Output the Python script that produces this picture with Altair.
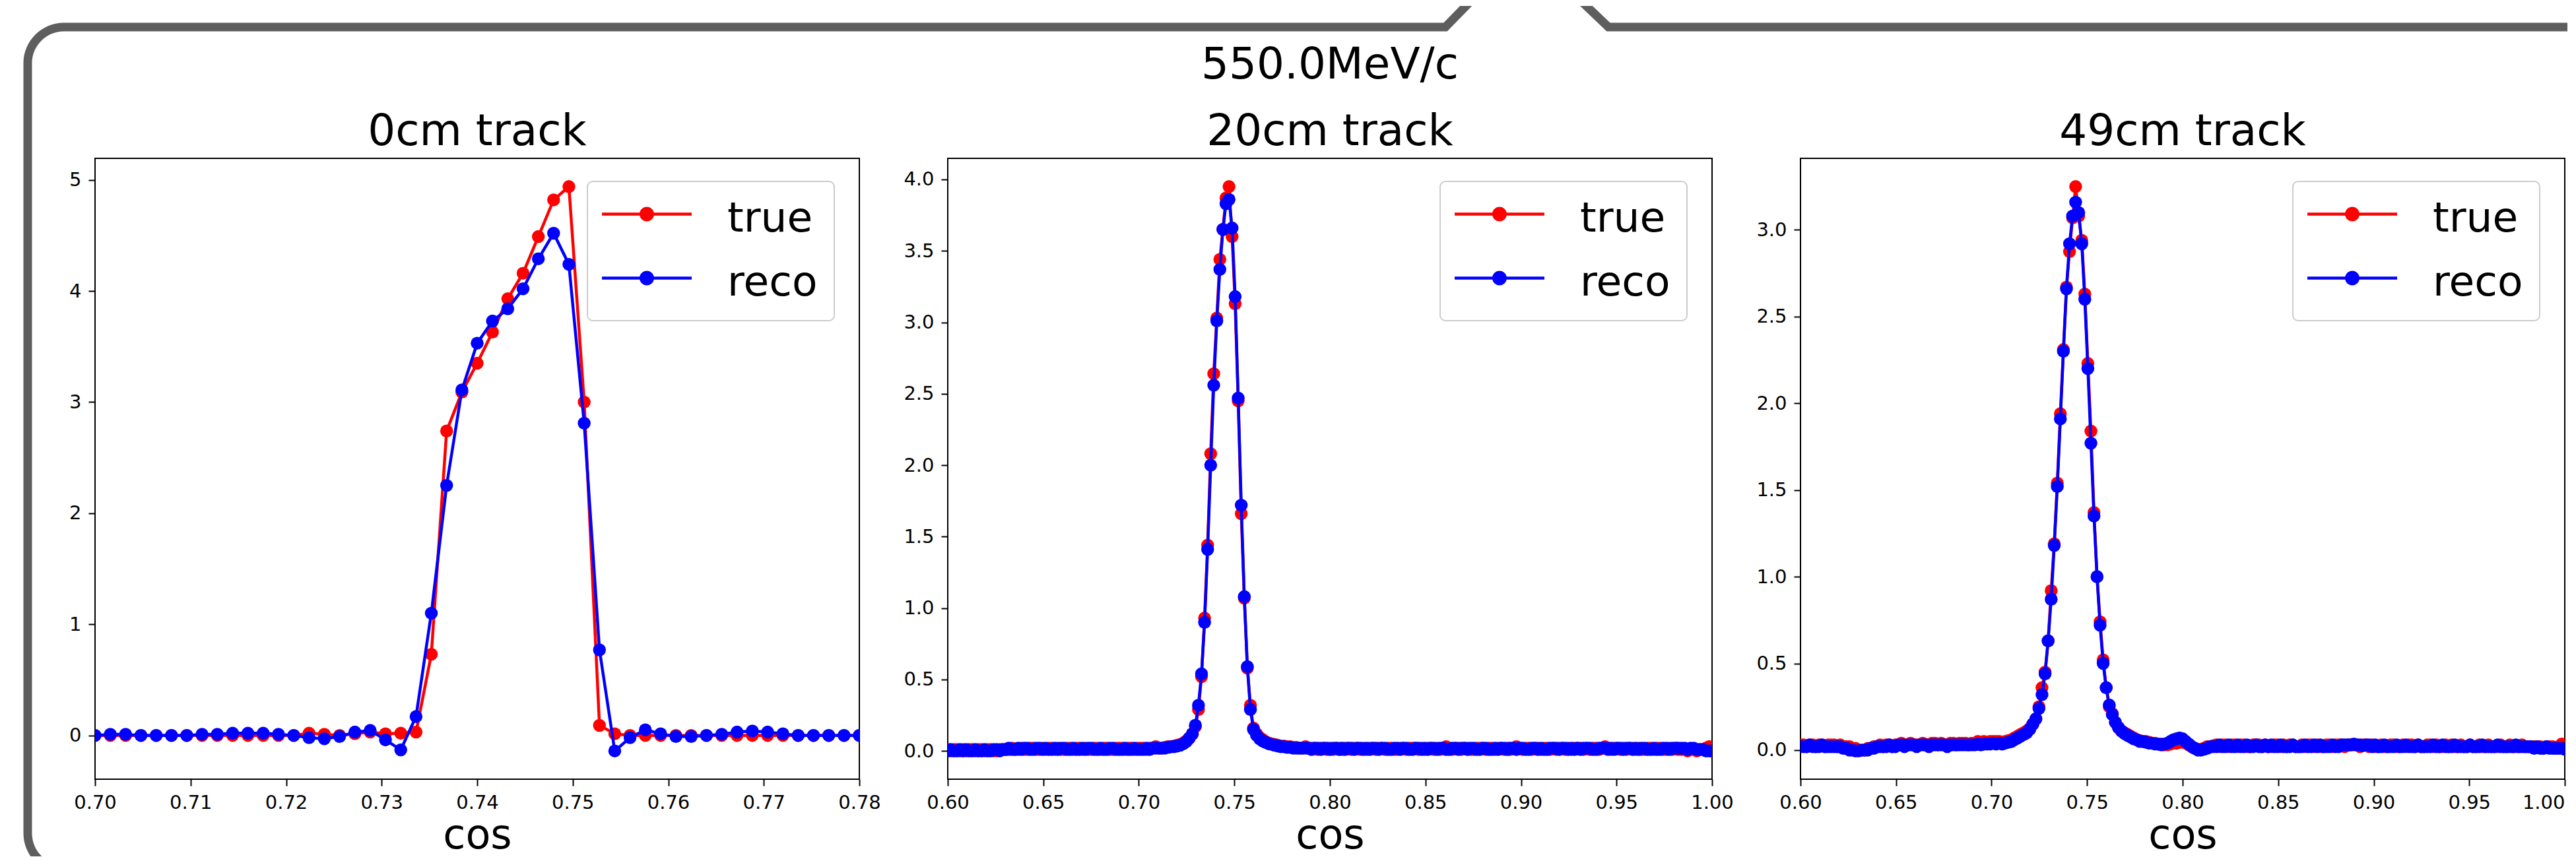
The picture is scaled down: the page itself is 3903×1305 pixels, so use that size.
import altair as alt
import pandas as pd

FONT = "DejaVu Sans"
MAIN_TITLE = "550.0MeV/c"
PANEL_TITLES = ["0cm track", "20cm track", "49cm track"]
SERIES = ["true", "reco"]
SERIES_COLORS = ["#ff0000", "#0000ff"]
X_TITLE = "cos"

# ---------------- panel 1 : 0cm track (bins start 0.70, width 0.0016) ----------------
P1_X0, P1_DX = 0.70, 0.0016
P1_TRUE = [0.00, 0.00, 0.00, 0.00, 0.00, 0.00, 0.00, 0.00, 0.00, 0.00,
           0.00, 0.00, 0.00, 0.00, 0.02, 0.01, 0.00, 0.015, 0.03, 0.015,
           0.02, 0.03, 0.73, 2.74, 3.09, 3.35, 3.63, 3.93, 4.16, 4.49,
           4.82, 4.94, 3.00, 0.09, 0.015, 0.00, 0.00, 0.00, 0.00, 0.00,
           0.00, 0.00, 0.00, 0.00, 0.00, 0.00, 0.00, 0.00, 0.00, 0.00,
           0.00]
P1_RECO = [0.00, 0.01, 0.01, 0.00, 0.00, 0.00, 0.00, 0.01, 0.01, 0.02,
           0.02, 0.02, 0.01, 0.00, -0.02, -0.03, -0.01, 0.03, 0.045, -0.04,
           -0.13, 0.17, 1.10, 2.25, 3.11, 3.53, 3.73, 3.84, 4.02, 4.29,
           4.52, 4.24, 2.81, 0.77, -0.14, -0.02, 0.05, 0.015, -0.01, -0.01,
           0.00, 0.01, 0.03, 0.04, 0.03, 0.015, 0.00, 0.00, 0.00, 0.00,
           0.00]

# ---------------- panel 2 : 20cm track (bins start 0.60, width 0.0016) ----------------
P2_X0, P2_DX = 0.60, 0.0016
P2_TRUE = [0.01, 0.00, 0.01, 0.01, 0.00, 0.01, 0.00, 0.01, 0.01, 0.00,
           0.01, 0.01, 0.00, 0.01, 0.01, 0.00, 0.00, 0.01, 0.01, 0.01,
           0.01, 0.02, 0.01, 0.01, 0.02, 0.01, 0.01, 0.02, 0.02, 0.01,
           0.01, 0.02, 0.01, 0.02, 0.02, 0.01, 0.02, 0.01, 0.01, 0.02,
           0.02, 0.01, 0.02, 0.02, 0.01, 0.02, 0.01, 0.01, 0.02, 0.02,
           0.01, 0.02, 0.02, 0.01, 0.01, 0.02, 0.02, 0.02, 0.01, 0.02,
           0.02, 0.01, 0.02, 0.02, 0.02, 0.01, 0.02, 0.02, 0.03, 0.02,
           0.02, 0.025, 0.03, 0.03, 0.035, 0.04, 0.045, 0.055, 0.07, 0.09,
           0.12, 0.17, 0.29, 0.52, 0.93, 1.44, 2.08, 2.64, 3.03, 3.44,
           3.65, 3.87, 3.95, 3.60, 3.13, 2.45, 1.66, 1.07, 0.58, 0.32,
           0.16, 0.12, 0.095, 0.08, 0.065, 0.055, 0.05, 0.045, 0.04, 0.035,
           0.035, 0.03, 0.03, 0.025, 0.025, 0.02, 0.02, 0.03, 0.02, 0.02,
           0.02, 0.01, 0.02, 0.02, 0.01, 0.02, 0.01, 0.02, 0.02, 0.01,
           0.02, 0.02, 0.01, 0.02, 0.02, 0.01, 0.02, 0.01, 0.02, 0.02,
           0.01, 0.02, 0.02, 0.01, 0.02, 0.02, 0.01, 0.01, 0.02, 0.02,
           0.01, 0.02, 0.02, 0.02, 0.01, 0.02, 0.01, 0.02, 0.02, 0.01,
           0.02, 0.01, 0.02, 0.03, 0.02, 0.01, 0.02, 0.02, 0.01, 0.02,
           0.02, 0.01, 0.01, 0.02, 0.02, 0.02, 0.01, 0.02, 0.02, 0.01,
           0.02, 0.02, 0.01, 0.02, 0.01, 0.02, 0.03, 0.02, 0.01, 0.02,
           0.02, 0.01, 0.02, 0.02, 0.01, 0.02, 0.02, 0.01, 0.02, 0.01,
           0.02, 0.02, 0.01, 0.02, 0.01, 0.02, 0.02, 0.02, 0.01, 0.02,
           0.01, 0.02, 0.02, 0.01, 0.02, 0.03, 0.02, 0.01, 0.02, 0.02,
           0.01, 0.02, 0.01, 0.02, 0.02, 0.01, 0.02, 0.01, 0.01, 0.02,
           0.02, 0.01, 0.02, 0.02, 0.01, 0.01, 0.02, 0.01, 0.02, 0.01,
           0.01, 0.01, 0.00, 0.01, 0.01, 0.00, 0.01, 0.01, 0.02, 0.03,
           0.00]
P2_RECO = [0.00, 0.01, 0.00, 0.00, 0.01, 0.00, 0.01, 0.00, 0.00, 0.01,
           0.00, 0.00, 0.01, 0.00, 0.00, 0.01, 0.01, 0.00, 0.01, 0.01,
           0.02, 0.01, 0.01, 0.02, 0.01, 0.02, 0.02, 0.01, 0.01, 0.02,
           0.02, 0.01, 0.02, 0.01, 0.01, 0.02, 0.01, 0.02, 0.02, 0.01,
           0.01, 0.02, 0.01, 0.01, 0.02, 0.01, 0.02, 0.02, 0.01, 0.01,
           0.02, 0.01, 0.01, 0.02, 0.02, 0.01, 0.01, 0.01, 0.02, 0.01,
           0.01, 0.02, 0.01, 0.01, 0.01, 0.02, 0.01, 0.02, 0.02, 0.02,
           0.02, 0.02, 0.025, 0.03, 0.03, 0.035, 0.04, 0.05, 0.065, 0.09,
           0.12, 0.18, 0.32, 0.54, 0.90, 1.41, 2.00, 2.56, 3.01, 3.37,
           3.65, 3.83, 3.86, 3.66, 3.18, 2.47, 1.72, 1.08, 0.59, 0.29,
           0.15, 0.11, 0.085, 0.07, 0.06, 0.05, 0.045, 0.04, 0.035, 0.03,
           0.03, 0.025, 0.025, 0.02, 0.02, 0.02, 0.02, 0.02, 0.02, 0.01,
           0.02, 0.02, 0.01, 0.02, 0.02, 0.01, 0.02, 0.02, 0.01, 0.02,
           0.01, 0.02, 0.02, 0.01, 0.02, 0.02, 0.01, 0.02, 0.01, 0.02,
           0.02, 0.01, 0.02, 0.02, 0.01, 0.01, 0.02, 0.02, 0.01, 0.02,
           0.02, 0.01, 0.01, 0.02, 0.02, 0.01, 0.02, 0.01, 0.02, 0.02,
           0.01, 0.02, 0.02, 0.01, 0.01, 0.02, 0.02, 0.01, 0.02, 0.02,
           0.01, 0.02, 0.02, 0.01, 0.01, 0.02, 0.02, 0.01, 0.01, 0.02,
           0.01, 0.02, 0.02, 0.01, 0.02, 0.02, 0.01, 0.02, 0.02, 0.01,
           0.01, 0.02, 0.02, 0.01, 0.02, 0.01, 0.01, 0.02, 0.02, 0.02,
           0.01, 0.02, 0.02, 0.01, 0.02, 0.01, 0.02, 0.01, 0.02, 0.02,
           0.02, 0.01, 0.01, 0.02, 0.02, 0.02, 0.01, 0.02, 0.01, 0.02,
           0.02, 0.01, 0.02, 0.02, 0.01, 0.02, 0.01, 0.02, 0.02, 0.01,
           0.01, 0.02, 0.01, 0.01, 0.02, 0.02, 0.01, 0.02, 0.02, 0.02,
           0.02, 0.02, 0.01, 0.02, 0.02, 0.01, 0.01, 0.01, 0.00, 0.00,
           0.00]

# ---------------- panel 3 : 49cm track (bins start 0.60, width 0.0016) ----------------
P3_X0, P3_DX = 0.60, 0.0016
P3_TRUE = [0.03, 0.03, 0.02, 0.03, 0.03, 0.02, 0.03, 0.03, 0.02, 0.03,
           0.03, 0.03, 0.02, 0.03, 0.02, 0.02, 0.02, 0.01, 0.01, 0.00,
           0.00, 0.00, 0.01, 0.01, 0.02, 0.02, 0.03, 0.02, 0.03, 0.03,
           0.02, 0.03, 0.03, 0.04, 0.03, 0.03, 0.04, 0.03, 0.03, 0.03,
           0.04, 0.03, 0.03, 0.04, 0.04, 0.03, 0.04, 0.03, 0.03, 0.04,
           0.04, 0.03, 0.04, 0.04, 0.04, 0.03, 0.04, 0.04, 0.05, 0.04,
           0.05, 0.04, 0.05, 0.05, 0.05, 0.05, 0.045, 0.05, 0.055, 0.06,
           0.07, 0.08, 0.09, 0.10, 0.11, 0.125, 0.15, 0.18, 0.25, 0.36,
           0.45, 0.63, 0.92, 1.19, 1.54, 1.94, 2.31, 2.67, 2.875, 3.07,
           3.25, 3.08, 2.94, 2.63, 2.23, 1.84, 1.37, 1.00, 0.74, 0.52,
           0.36, 0.25, 0.21, 0.16, 0.13, 0.11, 0.10, 0.09, 0.08, 0.07,
           0.06, 0.055, 0.05, 0.05, 0.045, 0.04, 0.04, 0.035, 0.035, 0.03,
           0.03, 0.035, 0.04, 0.04, 0.045, 0.045, 0.04, 0.03, 0.02, 0.01,
           0.005, 0.005, 0.01, 0.02, 0.02, 0.025, 0.03, 0.02, 0.03, 0.03,
           0.02, 0.03, 0.03, 0.02, 0.03, 0.03, 0.02, 0.02, 0.03, 0.03,
           0.03, 0.02, 0.03, 0.02, 0.02, 0.03, 0.03, 0.02, 0.03, 0.02,
           0.03, 0.03, 0.02, 0.02, 0.03, 0.02, 0.03, 0.03, 0.02, 0.03,
           0.02, 0.02, 0.03, 0.03, 0.02, 0.03, 0.03, 0.03, 0.02, 0.03,
           0.03, 0.03, 0.03, 0.02, 0.03, 0.03, 0.02, 0.03, 0.02, 0.02,
           0.03, 0.02, 0.02, 0.03, 0.03, 0.02, 0.02, 0.03, 0.02, 0.03,
           0.03, 0.02, 0.03, 0.02, 0.02, 0.03, 0.03, 0.02, 0.03, 0.02,
           0.02, 0.03, 0.02, 0.03, 0.02, 0.02, 0.03, 0.02, 0.02, 0.03,
           0.02, 0.02, 0.03, 0.02, 0.02, 0.03, 0.02, 0.02, 0.02, 0.03,
           0.02, 0.02, 0.03, 0.02, 0.02, 0.02, 0.03, 0.02, 0.02, 0.02,
           0.02, 0.02, 0.02, 0.01, 0.02, 0.02, 0.02, 0.01, 0.02, 0.035,
           0.01]
P3_RECO = [0.02, 0.02, 0.02, 0.03, 0.02, 0.02, 0.02, 0.03, 0.02, 0.02,
           0.02, 0.02, 0.02, 0.02, 0.01, 0.01, 0.00, 0.00, -0.005, -0.005,
           0.00, 0.00, 0.00, 0.01, 0.01, 0.02, 0.02, 0.02, 0.02, 0.03,
           0.02, 0.02, 0.03, 0.03, 0.02, 0.03, 0.03, 0.03, 0.02, 0.03,
           0.03, 0.03, 0.02, 0.03, 0.03, 0.03, 0.03, 0.03, 0.02, 0.03,
           0.03, 0.03, 0.03, 0.03, 0.03, 0.03, 0.03, 0.03, 0.035, 0.03,
           0.035, 0.035, 0.035, 0.04, 0.035, 0.04, 0.035, 0.04, 0.045, 0.05,
           0.06, 0.07, 0.08, 0.09, 0.10, 0.12, 0.15, 0.18, 0.24, 0.32,
           0.44, 0.63, 0.87, 1.18, 1.52, 1.91, 2.30, 2.66, 2.92, 3.08,
           3.16, 3.10, 2.92, 2.60, 2.20, 1.77, 1.35, 1.00, 0.72, 0.50,
           0.36, 0.26, 0.205, 0.16, 0.13, 0.11, 0.095, 0.085, 0.075, 0.065,
           0.06, 0.05, 0.05, 0.045, 0.04, 0.04, 0.035, 0.035, 0.03, 0.035,
           0.04, 0.05, 0.06, 0.065, 0.07, 0.065, 0.05, 0.035, 0.02, 0.01,
           0.00, 0.00, 0.005, 0.01, 0.02, 0.02, 0.02, 0.03, 0.02, 0.02,
           0.03, 0.02, 0.02, 0.03, 0.02, 0.02, 0.03, 0.02, 0.02, 0.03,
           0.02, 0.02, 0.03, 0.02, 0.03, 0.02, 0.02, 0.03, 0.02, 0.02,
           0.02, 0.03, 0.02, 0.02, 0.02, 0.03, 0.02, 0.02, 0.03, 0.02,
           0.03, 0.02, 0.02, 0.02, 0.03, 0.02, 0.02, 0.03, 0.03, 0.03,
           0.03, 0.035, 0.03, 0.03, 0.025, 0.03, 0.03, 0.02, 0.03, 0.02,
           0.02, 0.03, 0.02, 0.02, 0.02, 0.03, 0.02, 0.02, 0.03, 0.02,
           0.02, 0.02, 0.03, 0.02, 0.02, 0.02, 0.02, 0.03, 0.02, 0.02,
           0.03, 0.02, 0.02, 0.02, 0.03, 0.02, 0.02, 0.02, 0.02, 0.03,
           0.02, 0.02, 0.02, 0.03, 0.02, 0.02, 0.02, 0.02, 0.03, 0.02,
           0.02, 0.02, 0.02, 0.02, 0.03, 0.02, 0.02, 0.02, 0.02, 0.02,
           0.01, 0.02, 0.01, 0.01, 0.02, 0.01, 0.01, 0.01, 0.01, 0.01,
           0.005]

P1_XTICKS = [0.70, 0.71, 0.72, 0.73, 0.74, 0.75, 0.76, 0.77, 0.78]
P23_XTICKS = [0.60, 0.65, 0.70, 0.75, 0.80, 0.85, 0.90, 0.95, 1.00]
P1_YTICKS = [0, 1, 2, 3, 4, 5]
P2_YTICKS = [0.0, 0.5, 1.0, 1.5, 2.0, 2.5, 3.0, 3.5, 4.0]
P3_YTICKS = [0.0, 0.5, 1.0, 1.5, 2.0, 2.5, 3.0]

# ---------------- styling constants ----------------
PANEL_W, PANEL_H = 1158, 941
GAP = 134
FRAME_COLOR = "#5e5e5e"
# decorative screenshot frame (speech-bubble outline), pixel path relative to its own tiny view
FRAME_PATH = (
    "M37.5,1058 A61.5,61.5 0 0,1 26.5,1023 L26.5,-144 A61.5,61.5 0 0,1 88,-205.5 "
    "L2178.3,-205.5 L2203.1,-231 L2221.3,-231 L2183.7,-192.5 L88,-192.5 "
    "A48.5,48.5 0 0,0 39.5,-144 L39.5,1023 A48.5,48.5 0 0,0 54.4,1058 Z "
    "M2385,-231 L2403.9,-231 L2430.6,-205.5 L3881,-205.5 L3881,-192.5 L2425.4,-192.5 Z"
)
# legend glyph: line with a dot in the middle (matplotlib style)
LEGEND_SYMBOL = (
    "M-34.5,-9.3 L23.2,-9.3 L23.2,-4.7 L-34.5,-4.7 Z "
    "M44.5,-7 A11,11 0 1,1 22.5,-7 A11,11 0 1,1 44.5,-7 Z "
    "M43.8,-9.3 L101.5,-9.3 L101.5,-4.7 L43.8,-4.7 Z"
)


def make_df(x0, dx, true_vals, reco_vals):
    assert len(true_vals) == len(reco_vals), (len(true_vals), len(reco_vals))
    xs = [round(x0 + dx * i, 5) for i in range(len(true_vals))]
    rows = []
    for name, vals in zip(SERIES, [true_vals, reco_vals]):
        for x, v in zip(xs, vals):
            rows.append({"cos": x, "value": v, "series": name})
    return pd.DataFrame(rows)


def y_limits(a, b):
    lo = min(min(a), min(b))
    hi = max(max(a), max(b))
    pad = 0.05 * (hi - lo)
    return [lo - pad, hi + pad]


def title_params(text):
    return alt.TitleParams(
        text=text, font=FONT, fontSize=66, fontWeight="normal", color="black",
        anchor="middle", frame="group", baseline="alphabetic", offset=-46, lineHeight=101,
    )


def panel(df, xdom, xticks, ydom, yticks, yfmt, title, last=False):
    color_scale = alt.Scale(domain=SERIES, range=SERIES_COLORS)
    fill = alt.Fill(
        "series:N", scale=color_scale,
        legend=alt.Legend(
            title=None, orient="none", legendX=746, legendY=35,
            symbolType=LEGEND_SYMBOL, symbolSize=4, symbolStrokeWidth=0, symbolOpacity=1,
            labelFont=FONT, labelFontSize=63, labelColor="black", labelOffset=124,
            labelLimit=400, rowPadding=33, padding=25, fillColor="white",
            strokeColor="#cccccc", cornerRadius=8,
        ),
    )
    axis_kw = dict(values=xticks, format=".2f", title=X_TITLE, titleY=104,
                   titleBaseline="alphabetic", labelFlush=False)
    if last:
        axis_kw["labelAlign"] = {"condition": {"test": "datum.value > 0.999", "value": "right"},
                                 "value": "center"}
    x = alt.X("cos:Q", scale=alt.Scale(domain=xdom, nice=False, zero=False),
              axis=alt.Axis(**axis_kw))
    y = alt.Y("value:Q", scale=alt.Scale(domain=ydom, nice=False, zero=False),
              axis=alt.Axis(values=yticks, format=yfmt, title=None))
    layers = []
    for s, c in zip(SERIES, SERIES_COLORS):
        base = alt.Chart(df).transform_filter(alt.datum.series == s)
        layers.append(base.mark_line(color=c, strokeWidth=4.5, clip=True).encode(x=x, y=y))
        layers.append(base.mark_circle(size=380, opacity=1, clip=True).encode(x=x, y=y, fill=fill))
    return alt.layer(*layers).properties(
        width=PANEL_W, height=PANEL_H, title=title_params(title),
        view=alt.ViewBackground(stroke="black", strokeWidth=2),
    )


df1 = make_df(P1_X0, P1_DX, P1_TRUE, P1_RECO)
df2 = make_df(P2_X0, P2_DX, P2_TRUE, P2_RECO)
df3 = make_df(P3_X0, P3_DX, P3_TRUE, P3_RECO)

p1 = panel(df1, [0.70, 0.78], P1_XTICKS, y_limits(P1_TRUE, P1_RECO), P1_YTICKS, "d",
           PANEL_TITLES[0])
p2 = panel(df2, [0.60, 1.00], P23_XTICKS, y_limits(P2_TRUE, P2_RECO), P2_YTICKS, ".1f",
           [MAIN_TITLE, PANEL_TITLES[1]])
p3 = panel(df3, [0.60, 1.00], P23_XTICKS, y_limits(P3_TRUE, P3_RECO), P3_YTICKS, ".1f",
           PANEL_TITLES[2], last=True)

frame = alt.Chart(pd.DataFrame({"k": [0]})).mark_point(
    shape=FRAME_PATH, size=4, filled=True, color=FRAME_COLOR, opacity=1, strokeWidth=0
).encode(x=alt.value(0), y=alt.value(0)).properties(width=1, height=PANEL_H)

chart = alt.hconcat(frame, p1, p2, p3, spacing=GAP, bounds="flush").resolve_scale(
    x="independent", y="independent", fill="independent"
).properties(
    padding={"left": 0, "top": 0, "right": 0, "bottom": 0}, background="white"
).configure(font=FONT).configure_view(stroke="transparent").configure_axis(
    labelFont=FONT, labelFontSize=29, labelColor="black", tickColor="black", tickWidth=2,
    tickSize=10, labelPadding=11, domain=False, grid=False, titleFont=FONT, titleFontSize=62,
    titleFontWeight="normal", titleColor="black",
).configure_legend(strokeWidth=2)

chart.save("out.html", embed_options={"renderer": "svg", "actions": False})
